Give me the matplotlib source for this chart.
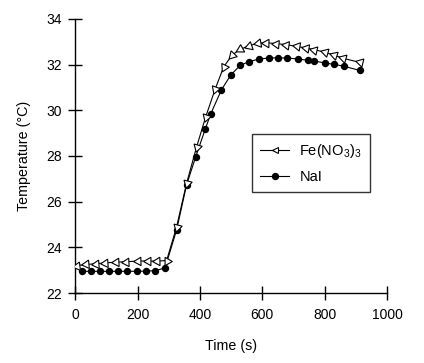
import numpy as np
import matplotlib
matplotlib.use("Agg")
import matplotlib.pyplot as plt
from matplotlib.lines import Line2D

plt.rcParams['font.family'] = ['Liberation Sans', 'DejaVu Sans']
plt.rcParams['mathtext.default'] = 'regular'

# data
t_fe = [4, 34, 65, 95, 130, 162, 202, 232, 261, 293, 325, 357, 389, 418, 449,
        476, 503, 529, 558, 585, 613, 645, 675, 710, 740, 767, 801, 829, 859, 912]
T_fe = [23.2, 23.25, 23.28, 23.32, 23.35, 23.37, 23.4, 23.4, 23.4, 23.42,
        24.9, 26.8, 28.39, 29.7, 30.94, 31.9, 32.42, 32.67, 32.83, 32.94,
        32.96, 32.92, 32.88, 32.8, 32.73, 32.66, 32.54, 32.42, 32.28, 32.1]

t_nai = [20, 49, 79, 108, 138, 167, 199, 227, 257, 288, 325, 357, 386, 417, 435,
         469, 499, 529, 557, 590, 622, 650, 680, 714, 746, 767, 802, 831, 862, 912]
T_nai = [22.95, 22.95, 22.95, 22.95, 22.95, 22.95, 22.95, 22.96, 22.98, 23.1,
         24.76, 26.74, 27.95, 29.18, 29.86, 30.9, 31.55, 31.97, 32.13, 32.25,
         32.29, 32.3, 32.29, 32.25, 32.19, 32.16, 32.07, 32.01, 31.93, 31.75]

fig = plt.figure(figsize=(4.24, 3.63), dpi=100)
ax = fig.add_axes([0.1776, 0.1928, 0.7351, 0.7549])
ax.set_xlim(0, 1000)
ax.set_ylim(22, 34)

lw = 0.8
ax.plot(t_nai, T_nai, color='black', lw=lw, marker='o', ms=4.3,
        mfc='black', mec='black', zorder=2)
ax.plot(t_fe, T_fe, color='black', lw=lw, zorder=3)

# triangles point back along the curve
pts = ax.transData.transform(np.column_stack([t_fe, T_fe]))
for i in range(len(t_fe)):
    a = pts[max(i - 1, 0)]
    b = pts[min(i + 1, len(t_fe) - 1)]
    d = b - a
    ang = np.degrees(np.arctan2(-d[1], -d[0])) - 90
    ax.plot(t_fe[i], T_fe[i], marker=(3, 0, ang), ms=7, mfc='white',
            mec='black', mew=0.8, ls='none', zorder=4)

for s in ['top', 'right']:
    ax.spines[s].set_visible(False)
for s in ['left', 'bottom']:
    ax.spines[s].set_linewidth(1.0)

ax.set_xticks(np.arange(0, 1001, 200))
ax.set_yticks(np.arange(22, 35, 2))
ax.tick_params(direction='inout', length=9.5, width=1.0, labelsize=10)
ax.tick_params(axis='x', pad=6)
ax.tick_params(axis='y', pad=5)
ax.set_xlabel('Time (s)', fontsize=10.3, labelpad=12)
ax.set_ylabel('Temperature (°C)', fontsize=10.3, labelpad=11)

handles = [
    Line2D([], [], color='black', lw=lw, marker='<', ms=5, mfc='white',
           mec='black', mew=0.8),
    Line2D([], [], color='black', lw=lw, marker='o', ms=4.3, mfc='black',
           mec='black'),
]
leg = fig.legend(handles, ['Fe(NO$_3$)$_3$', 'NaI'], loc='upper left',
                 bbox_to_anchor=(252 / 424, 1 - 134 / 363), fontsize=10.5,
                 frameon=True, fancybox=False, edgecolor='black',
                 handlelength=2.0, handletextpad=0.7, borderpad=0.55,
                 labelspacing=0.7, borderaxespad=0)
leg.get_frame().set_linewidth(1.0)

fig.savefig('out.png', dpi=100)
